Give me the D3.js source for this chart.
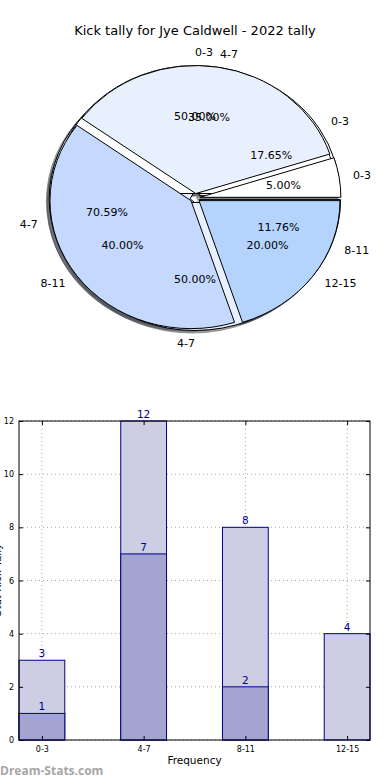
<!DOCTYPE html>
<html>
<head>
<meta charset="utf-8">
<script src="https://cdn.jsdelivr.net/npm/d3@7"></script>
<style>
  body { margin: 0; background: #ffffff; }
  svg { display: block; font-family: "DejaVu Sans", sans-serif; }
</style>
</head>
<body>
<script>
// ---------- data ----------
const titleText = "Kick tally for Jye Caldwell - 2022 tally";
const pieCategoriesA = ["0-3", "4-7", "8-11"];
const pieValuesA = [3, 12, 2];
const pieCategoriesB = ["0-3", "4-7"];
const pieValuesB = [1, 1];
const pieCategoriesC = ["0-3", "4-7", "8-11", "12-15"];
const pieValuesC = [1, 7, 8, 4];
const pieColors = ["#ffffff", "#e9f0fd", "#c5d8fd", "#b4d4fe"];

const barCategories = ["0-3", "4-7", "8-11", "12-15"];
const barTotals = [3, 12, 8, 4];
const barSubset = [1, 7, 2, 0];
const yTickValues = [0, 2, 4, 6, 8, 10, 12];
const xAxisLabel = "Frequency";
const yAxisLabel = "Stat Kick Tally";
const watermark = "Dream-Stats.com";

// ---------- svg ----------
const W = 390, H = 780;
const svg = d3.select("body").append("svg").attr("width", W).attr("height", H);

svg.append("text").attr("x", 195).attr("y", 35).attr("text-anchor", "middle")
  .attr("font-size", 13).attr("fill", "#000").text(titleText);

// ---------- pies ----------
const cx = 195, cy = 198, rx = 141, ry = 128, explode = 0.035;
const arcGen = d3.arc().innerRadius(0).outerRadius(1);
const pieGen = d3.pie().sort(null).startAngle(Math.PI / 2).endAngle(Math.PI / 2 - 2 * Math.PI);

const shadowLayer = svg.append("g");
const wedgeLayer = svg.append("g");
const textLayer = svg.append("g").attr("font-size", 11).attr("fill", "#000");

function drawPie(values, cats) {
  const total = d3.sum(values);
  const arcs = pieGen(values);
  const g = wedgeLayer.append("g");
  const items = arcs.map((a, i) => {
    const mid = (a.startAngle + a.endAngle) / 2;
    const th = Math.PI / 2 - mid;
    const dx = explode * rx * Math.cos(th), dy = -explode * ry * Math.sin(th);
    return { a, i, th, ox: cx + dx, oy: cy + dy };
  });
  items.forEach(d => {
    const c = d3.rgb(pieColors[d.i]);
    const sc = d3.rgb(c.r * 0.3, c.g * 0.3, c.b * 0.3);
    shadowLayer.append("path").attr("d", arcGen(d.a))
      .attr("transform", `translate(${d.ox - 2.8},${d.oy + 2.6}) scale(${rx},${ry})`)
      .attr("fill", sc).attr("fill-opacity", 0.5)
      .attr("stroke", sc).attr("stroke-opacity", 0.5).attr("stroke-width", 1)
      .attr("vector-effect", "non-scaling-stroke");
  });
  items.forEach(d => {
    g.append("path").attr("d", arcGen(d.a))
      .attr("transform", `translate(${d.ox},${d.oy}) scale(${rx},${ry})`)
      .attr("fill", pieColors[d.i]).attr("stroke", "#000").attr("stroke-width", 1)
      .attr("vector-effect", "non-scaling-stroke");
  });
  items.forEach(d => {
    const c = Math.cos(d.th), s = Math.sin(d.th);
    textLayer.append("text")
      .attr("x", d.ox + 1.1 * rx * c).attr("y", d.oy - 1.1 * ry * s)
      .attr("text-anchor", c > 0 ? "start" : "end")
      .attr("dominant-baseline", "central")
      .text(cats[d.i]);
    textLayer.append("text")
      .attr("x", d.ox + 0.6 * rx * c).attr("y", d.oy - 0.6 * ry * s)
      .attr("text-anchor", "middle").attr("dominant-baseline", "central")
      .text((values[d.i] / total * 100).toFixed(2) + "%");
  });
}
drawPie(pieValuesA, pieCategoriesA);
drawPie(pieValuesB, pieCategoriesB);
drawPie(pieValuesC, pieCategoriesC);

// ---------- bar chart ----------
const axL = 19, axR = 370, axT = 421, axB = 740;
const barW = 0.45;
const x = d3.scaleLinear().domain([-barW / 2, barCategories.length - 1 + barW / 2]).range([axL, axR]);
const y = d3.scaleLinear().domain([0, 12]).range([axB, axT]);
const bg = svg.append("g");

bg.append("g").selectAll("line").data(yTickValues).join("line")
  .attr("x1", axL).attr("x2", axR).attr("y1", d => y(d)).attr("y2", d => y(d))
  .attr("stroke", "#a8a8a8").attr("stroke-width", 1).attr("stroke-dasharray", "1,3");
bg.append("g").selectAll("line").data(barCategories).join("line")
  .attr("x1", (d, i) => x(i)).attr("x2", (d, i) => x(i)).attr("y1", axT).attr("y2", axB)
  .attr("stroke", "#a8a8a8").attr("stroke-width", 1).attr("stroke-dasharray", "1,3");

const navy = "#00008b";
bg.append("g").selectAll("rect").data(barTotals).join("rect")
  .attr("x", (d, i) => x(i - barW / 2)).attr("width", x(barW) - x(0))
  .attr("y", d => y(d)).attr("height", d => y(0) - y(d))
  .attr("fill", "#cdcde4").attr("stroke", navy).attr("stroke-width", 1);
bg.append("g").selectAll("rect").data(barSubset).join("rect")
  .attr("x", (d, i) => x(i - barW / 2)).attr("width", x(barW) - x(0))
  .attr("y", d => y(d)).attr("height", d => y(0) - y(d))
  .attr("fill", "#a3a5d0").attr("stroke", navy).attr("stroke-width", d => d > 0 ? 1 : 0);

const vl = bg.append("g").attr("font-size", 10.5).attr("fill", navy).attr("text-anchor", "middle");
barTotals.forEach((v, i) => vl.append("text").attr("x", x(i)).attr("y", y(v) - 3).text(v));
barSubset.forEach((v, i) => { if (v > 0) vl.append("text").attr("x", x(i)).attr("y", y(v) - 3).text(v); });

const yAxisL = d3.axisLeft(y).tickValues(yTickValues).tickSize(-4).tickPadding(5).tickFormat(d3.format("d"));
const yAxisR = d3.axisRight(y).tickValues(yTickValues).tickSize(-4).tickFormat("");
const xAxisB = d3.axisBottom(x).tickValues(d3.range(barCategories.length)).tickSize(-4).tickPadding(6)
  .tickFormat(i => barCategories[i]);
const xAxisT = d3.axisTop(x).tickValues(d3.range(barCategories.length)).tickSize(-4).tickFormat("");

function styleAxis(g) {
  g.select(".domain").remove();
  g.selectAll("text").attr("font-family", "DejaVu Sans").attr("font-size", 8).attr("fill", "#000");
  g.selectAll("line").attr("stroke", "#000");
}
bg.append("g").attr("transform", `translate(${axL},0)`).call(yAxisL).call(styleAxis);
bg.append("g").attr("transform", `translate(${axR},0)`).call(yAxisR).call(styleAxis);
bg.append("g").attr("transform", `translate(0,${axB})`).call(xAxisB).call(styleAxis);
bg.append("g").attr("transform", `translate(0,${axT})`).call(xAxisT).call(styleAxis);

bg.append("rect").attr("x", axL).attr("y", axT).attr("width", axR - axL).attr("height", axB - axT)
  .attr("fill", "none").attr("stroke", "#000").attr("stroke-width", 1);

svg.append("text").attr("x", (axL + axR) / 2).attr("y", 764).attr("text-anchor", "middle")
  .attr("font-size", 10.5).attr("fill", "#000").text(xAxisLabel);
svg.append("text").attr("transform", `translate(1,580) rotate(-90)`).attr("text-anchor", "middle")
  .attr("font-size", 10.5).attr("fill", "#000").text(yAxisLabel);

svg.append("text").attr("x", 0).attr("y", 775).attr("font-family", "Open Sans, sans-serif")
  .attr("font-weight", "bold").attr("font-size", 12).attr("fill", "#a6a6a6").text(watermark);
</script>
</body>
</html>
